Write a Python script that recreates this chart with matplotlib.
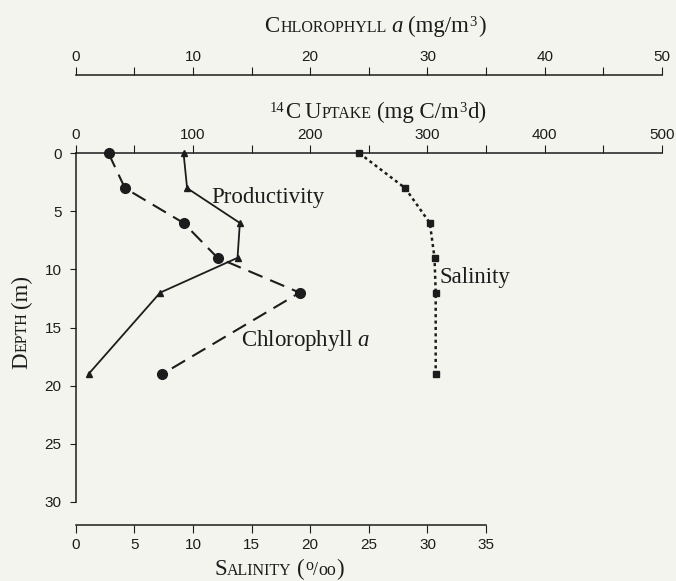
import matplotlib
matplotlib.use("Agg")
import matplotlib.pyplot as plt
from matplotlib.ticker import MultipleLocator
from matplotlib.transforms import IdentityTransform

# Profile samples (depth in metres)
depth_m = [0, 3, 6, 9, 12, 19]
chlorophyll_mg_m3 = [2.8, 4.2, 9.2, 12.1, 19.1, 7.4]
uptake_mgC_m3d = [92, 95, 140, 138, 72, 11]
salinity_ppt = [24.2, 28.1, 30.2, 30.6, 30.7, 30.7]

# Tick values
depth_ticks = [0, 5, 10, 15, 20, 25, 30]
uptake_ticks = [0, 100, 200, 300, 400, 500]
chl_ticks = [0, 10, 20, 30, 40, 50]
sal_ticks = [0, 5, 10, 15, 20, 25, 30, 35]

W, H, DPI = 676, 581, 100
INK = "#1c1c1c"
PAPER = "#f4f4ef"
SERIF = "Liberation Serif"

plt.rcParams.update({
    "font.family": ["Liberation Sans", "DejaVu Sans"],
    "mathtext.fontset": "custom",
    "mathtext.rm": SERIF,
    "mathtext.it": SERIF + ":italic",
    "lines.scale_dashes": False,
    "axes.edgecolor": INK,
    "axes.linewidth": 1.1,
    "xtick.color": INK,
    "ytick.color": INK,
    "xtick.labelsize": 11,
    "ytick.labelsize": 11,
})

fig = plt.figure(figsize=(W / DPI, H / DPI), dpi=DPI, facecolor=PAPER)


def px_box(x0, y0, x1, y1):
    """Axes rectangle from pixel edges measured from the top-left corner."""
    return [x0 / W, 1 - y1 / H, (x1 - x0) / W, (y1 - y0) / H]


ax = fig.add_axes(px_box(75.7, 153.3, 662, 501.7))
ax.set_facecolor("none")
ax.set_xlim(0, 500)
ax.set_ylim(30, 0)

# chlorophyll scale above, salinity scale below; both share the depth axis
ax_chl = ax.twiny()
ax_sal = ax.twiny()

ax.xaxis.tick_top()
ax_chl.xaxis.tick_top()
ax_sal.xaxis.tick_bottom()

for a in (ax, ax_chl, ax_sal):
    for s in a.spines.values():
        s.set_visible(False)
ax.spines["top"].set_visible(True)
ax.spines["left"].set_visible(True)
ax.spines["left"].set_bounds(30, 0)

ax_chl.set_xlim(0, 50)
ax_chl.spines["top"].set_visible(True)
ax_chl.spines["top"].set_position(("outward", 78.3 * 72 / DPI))

ax_sal.set_xlim(0, 50)
ax_sal.spines["bottom"].set_visible(True)
ax_sal.spines["bottom"].set_position(("outward", 23.3 * 72 / DPI))
ax_sal.spines["bottom"].set_bounds(0, 35)

# ticks
ax.set_xticks(uptake_ticks)
ax.xaxis.set_minor_locator(MultipleLocator(50))
ax.tick_params(axis="x", which="both", direction="out", length=6, width=0.8, pad=2)
ax.set_yticks(depth_ticks)
ax.tick_params(axis="y", direction="out", length=4.3, width=0.8, pad=6)

ax_chl.set_xticks(chl_ticks)
ax_chl.xaxis.set_minor_locator(MultipleLocator(5))
ax_chl.tick_params(axis="x", which="both", direction="out", length=6, width=0.8, pad=2)

ax_sal.set_xticks(sal_ticks)
ax_sal.tick_params(axis="x", direction="out", length=6, width=0.8, pad=3.5)

# profiles
ax_chl.plot(chlorophyll_mg_m3, depth_m, color=INK, lw=1.5, dashes=(11, 6),
            marker="o", ms=7, clip_on=False, zorder=3)
ax.plot(uptake_mgC_m3d, depth_m, color=INK, lw=1.3, marker="^", ms=5,
        clip_on=False, zorder=3)
ax_sal.plot(salinity_ppt, depth_m, color=INK, lw=1.8, dashes=(2.2, 2.4),
            marker="s", ms=4.5, clip_on=False, zorder=3)

# curve labels
lab = dict(fontsize=16.5, family=SERIF, color=INK, va="baseline", ha="left")
ax.text(116, 4.3, "Productivity", **lab)
ax.text(141, 16.6, r"Chlorophyll $a$", **lab)
ax.text(310.6, 11.2, "Salinity", **lab)


def caps_label(pieces, xc, yc, vertical=False):
    """Lay out small-caps style text from pieces (text, size, gap_px, rise_px, style)."""
    renderer = fig.canvas.get_renderer()
    items = []
    for text, size, gap, rise, style in pieces:
        t = fig.text(0, 0, text, fontsize=size, family=SERIF, fontstyle=style,
                     color=INK, ha="left", va="baseline",
                     rotation=90 if vertical else 0, rotation_mode="anchor",
                     transform=IdentityTransform())
        ext = t.get_window_extent(renderer)
        adv = ext.height if vertical else ext.width
        items.append((t, gap, adv, rise))
    total = sum(g + a for _, g, a, _ in items)
    pos = -total / 2
    for t, gap, adv, rise in items:
        pos += gap
        if vertical:
            t.set_position((xc - rise, (H - yc) + pos))
        else:
            t.set_position((xc + pos, (H - yc) + rise))
        pos += adv


N = "normal"
IT = "italic"
BIG, SMALL, SUP = 16.5, 11.5, 10.5
caps_label([("C", BIG, 0, 0, N), ("HLOROPHYLL", SMALL, 0.5, 0, N),
            ("a", BIG, 5, 0, IT), ("(mg/m", BIG, 5, 0, N),
            ("3", SUP, 0.8, 6.5, N), (")", BIG, 0.8, 0, N)], 375, 32)
caps_label([("14", SUP, 0, 6.5, N), ("C", BIG, 0.8, 0, N),
            ("U", BIG, 5, 0, N), ("PTAKE", SMALL, 0.5, 0, N),
            ("(mg C/m", BIG, 5, 0, N), ("3", SUP, 0.8, 6.5, N),
            ("d)", BIG, 0.8, 0, N)], 378, 118)
caps_label([("S", BIG, 0, 0, N), ("ALINITY", SMALL, 0.5, 0, N),
            ("(", BIG, 5, 0, N), ("o", 11.5, 0.5, 5.5, N), ("/", 13, 0, 0, N),
            ("oo", 13, 0, 0, N), (")", BIG, 0.5, 0, N)], 279, 575)
caps_label([("D", BIG, 0, 0, N), ("EPTH", SMALL, 0.5, 0, N),
            ("(m)", BIG, 5, 0, N)], 27, 322, vertical=True)

fig.savefig("out.png", dpi=DPI, facecolor=PAPER)
